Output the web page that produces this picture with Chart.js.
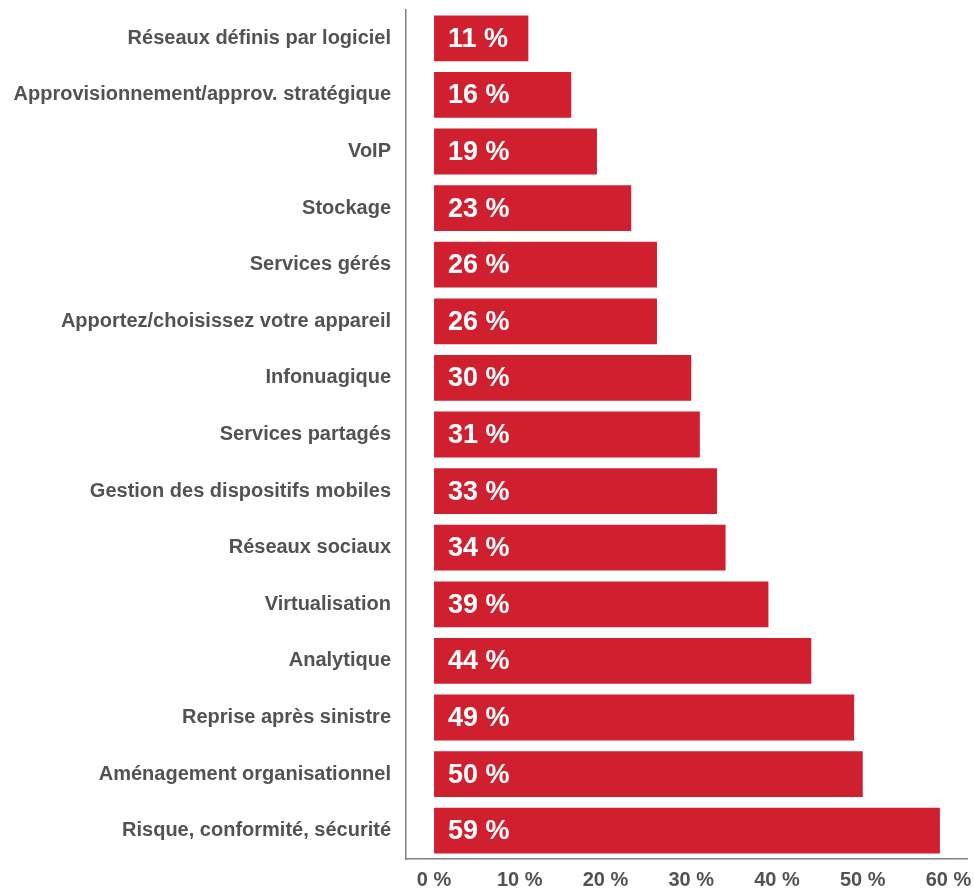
<!DOCTYPE html>
<html>
<head>
<meta charset="utf-8">
<script src="https://cdn.jsdelivr.net/npm/chart.js@4"></script>
<style>
  html, body { margin: 0; padding: 0; background: #fff; }
</style>
</head>
<body>
<canvas id="chart" width="974" height="890"></canvas>
<script>
const categories = [
    'Réseaux définis par logiciel',
    'Approvisionnement/approv. stratégique',
    'VoIP',
    'Stockage',
    'Services gérés',
    'Apportez/choisissez votre appareil',
    'Infonuagique',
    'Services partagés',
    'Gestion des dispositifs mobiles',
    'Réseaux sociaux',
    'Virtualisation',
    'Analytique',
    'Reprise après sinistre',
    'Aménagement organisationnel',
    'Risque, conformité, sécurité'
]
const values = [11, 16, 19, 23, 26, 26, 30, 31, 33, 34, 39, 44, 49, 50, 59]
const tickValues = [0, 10, 20, 30, 40, 50, 60]

const font = '"Liberation Sans", Arial, Helvetica, sans-serif'
const grey = '#525254'
const red = '#d01f2f'

// white "xx %" labels inside the bars
const barLabels = {
    id: 'barLabels',
    afterDatasetsDraw(chart) {
        const ctx = chart.ctx
        const meta = chart.getDatasetMeta(0)
        ctx.save()
        ctx.fillStyle = '#fff'
        ctx.font = 'bold 27px ' + font
        ctx.textAlign = 'left'
        ctx.textBaseline = 'middle'
        meta.data.forEach((bar, i) => {
            ctx.fillText(values[i] + ' %', bar.base + 14, bar.y + 1)
        })
        ctx.restore()
    }
}

new Chart(document.getElementById('chart'), {
    type: 'bar',
    data: {
        labels: categories,
        datasets: [{
            data: values,
            backgroundColor: red,
            borderWidth: 0,
            barPercentage: 0.81,
            categoryPercentage: 1
        }]
    },
    options: {
        indexAxis: 'y',
        responsive: false,
        animation: false,
        layout: {padding: {top: 10, right: 7, left: 0, bottom: 0}},
        plugins: {
            legend: {display: false},
            tooltip: {enabled: false}
        },
        scales: {
            x: {
                min: -3.27,
                max: 62.16,
                afterBuildTicks: (scale) => {
                    scale.ticks = tickValues.map(v => ({value: v}))
                },
                afterFit: (scale) => {
                    scale.height = 31
                    scale.paddingLeft = 0
                    scale.paddingRight = 0
                },
                grid: {display: false, drawTicks: false},
                border: {display: true, color: '#808080', width: 1.5},
                ticks: {
                    padding: 9,
                    color: grey,
                    font: {family: font, size: 20, weight: 'bold'},
                    callback: (v) => v + ' %'
                }
            },
            y: {
                afterFit: (scale) => {
                    scale.width = 406
                    scale.paddingTop = 0
                    scale.paddingBottom = 0
                },
                grid: {display: false, drawTicks: false},
                border: {display: true, color: '#808080', width: 1.5},
                ticks: {
                    padding: 15,
                    color: grey,
                    font: {family: font, size: 20, weight: 'bold'}
                }
            }
        }
    },
    plugins: [barLabels]
})
</script>
</body>
</html>
